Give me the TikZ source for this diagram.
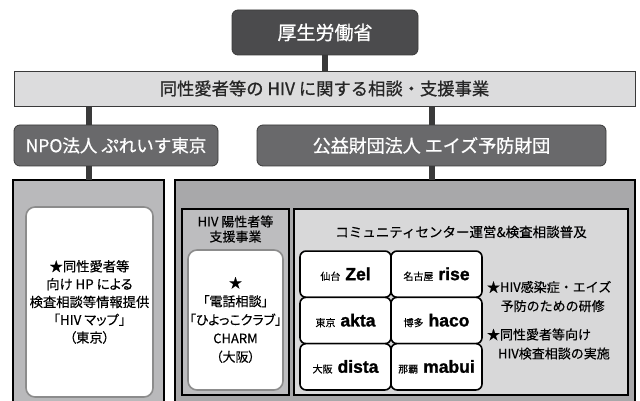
\documentclass[tikz,border=0pt]{standalone}
\usepackage{fontspec}
\setmainfont{Noto Sans CJK JP}[FakeBold=0.3]
\newfontfamily\headfont{Noto Sans CJK JP}[FakeBold=0.8]
\newfontfamily\cellfont{Liberation Sans}[BoldFeatures={FakeBold=1.3}]
\usepackage{tikz}

\definecolor{headgray}{HTML}{4B4B4D}
\definecolor{orggray}{HTML}{69696B}
\definecolor{bargray}{HTML}{DCDCDD}
\definecolor{linegray}{HTML}{3A3A3A}
\definecolor{leftgray}{HTML}{B9B9BB}
\definecolor{rightgray}{HTML}{A8A8AA}
\definecolor{subgray}{HTML}{BDBDBF}
\definecolor{commgray}{HTML}{D8D8D9}
\definecolor{cardedge}{HTML}{8C8C8C}
\newcommand{\jpsize}[2]{\fontsize{#1}{#2}\selectfont}

\begin{document}
\begin{tikzpicture}
[x=1pt,y=-1pt,%
  every node/.style={inner sep=0pt,outer sep=0pt},%
  head/.style={draw=linegray,thick,fill=headgray,rounded corners=6pt,text=white},%
  org/.style={draw=linegray,thick,fill=orggray,rounded corners=6pt,text=white},%
  panel/.style={draw=black,line width=1.5pt},%
  sub/.style={draw=black,line width=2.4pt},%
  card/.style={draw=cardedge,line width=1.6pt,fill=white,rounded corners=9pt,align=center},%
  cell/.style={draw=black,line width=1.6pt,fill=white,rounded corners=6pt,%
    minimum width=91pt,minimum height=46.3pt},%
  link/.style={draw=linegray,line width=6pt}]
\useasboundingbox (0,0) rectangle (640,401);
\clip (0,0) rectangle (640,401);
\node[head,minimum width=186pt,minimum height=45pt,font=\headfont\jpsize{19}{22}] (mhlw) at (325,32.5) {厚生労働省};
\node[draw=linegray,thick,fill=bargray,text=black!85,minimum width=621pt,minimum height=35pt,%
  font=\headfont\jpsize{17.3}{20}] (banner) at (324.5,88.5) {同性愛者等の HIV に関する相談・支援事業};
\node[org,minimum width=204pt,minimum height=41pt,font=\headfont\jpsize{17.5}{20}] (npo) at (116,145.5) {NPO法人 ぷれいす東京};
\node[org,minimum width=349pt,minimum height=41pt,font=\headfont\jpsize{18}{20}] (jfap) at (431.5,145.5) {公益財団法人 エイズ予防財団};
\node[panel,fill=leftgray,minimum width=151pt,minimum height=240pt,anchor=north] (npopanel) at (88.5,180) {};
\node[panel,fill=rightgray,minimum width=460pt,minimum height=240pt,anchor=north] (jfappanel) at (405,180) {};
\node[card,minimum width=127pt,minimum height=190pt,font=\jpsize{13.3}{17.8}\addfontfeatures{RawFeature=+palt}] (mapcard) at (89.5,302)
  {★同性愛者等\\向け HP による\\検査相談等情報提供\\「HIV マップ」\\（東京）};
\node[sub,fill=subgray,minimum width=107pt,minimum height=186pt] (plusbox) at (235.5,302) {};
\node[align=center,font=\jpsize{13}{15}] (plustitle) at (235.5,229) {HIV 陽性者等\\支援事業};
\node[card,minimum width=95pt,minimum height=140pt,font=\jpsize{13}{18.5}\addfontfeatures{RawFeature=+palt}] (pluscard) at (235.5,320)
  {★\\「電話相談」\\「ひよっこクラブ」\\CHARM\\（大阪）};
\node[sub,fill=commgray,minimum width=334pt,minimum height=186pt] (commbox) at (461,302) {};
\node[font=\jpsize{13.5}{16}] (commtitle) at (461,232) {コミュニティセンター運営\&検査相談普及};
\node[cell] (zel) at (345.5,274.2) {{\jpsize{10}{12}仙台}\hspace{5pt}{\cellfont\bfseries\jpsize{17.5}{20}Zel}};
\node[cell] (rise) at (436.5,274.2) {{\jpsize{10}{12}名古屋}\hspace{5pt}{\cellfont\bfseries\jpsize{17.5}{20}rise}};
\node[cell] (akta) at (345.5,320.5) {{\jpsize{10}{12}東京}\hspace{5pt}{\cellfont\bfseries\jpsize{17.5}{20}akta}};
\node[cell] (haco) at (436.5,320.5) {{\jpsize{10}{12}博多}\hspace{5pt}{\cellfont\bfseries\jpsize{17.5}{20}haco}};
\node[cell] (dista) at (345.5,366.8) {{\jpsize{10}{12}大阪}\hspace{5pt}{\cellfont\bfseries\jpsize{17.5}{20}dista}};
\node[cell] (mabui) at (436.5,366.8) {{\jpsize{10}{12}那覇}\hspace{5pt}{\cellfont\bfseries\jpsize{17.5}{20}mabui}};
\node[align=left,anchor=west,font=\jpsize{13}{19}] (training) at (487,296.5) {★HIV感染症・エイズ\\\hspace{1.05em}予防のための研修};
\node[align=left,anchor=west,font=\jpsize{13}{19}] (testing) at (487,344) {★同性愛者等向け\\\hspace{0.85em}HIV検査相談の実施};
\draw[link] (mhlw.south) -- (mhlw.south |- banner.north);
\draw[link] (npopanel.north |- banner.south) -- (npopanel.north |- npo.north);
\draw[link] (npopanel.north |- npo.south) -- (npopanel.north);
\draw[link] (jfap.north |- banner.south) -- (jfap.north);
\draw[link] (jfap.south) -- (jfap.south |- jfappanel.north);
\end{tikzpicture}
\end{document}
